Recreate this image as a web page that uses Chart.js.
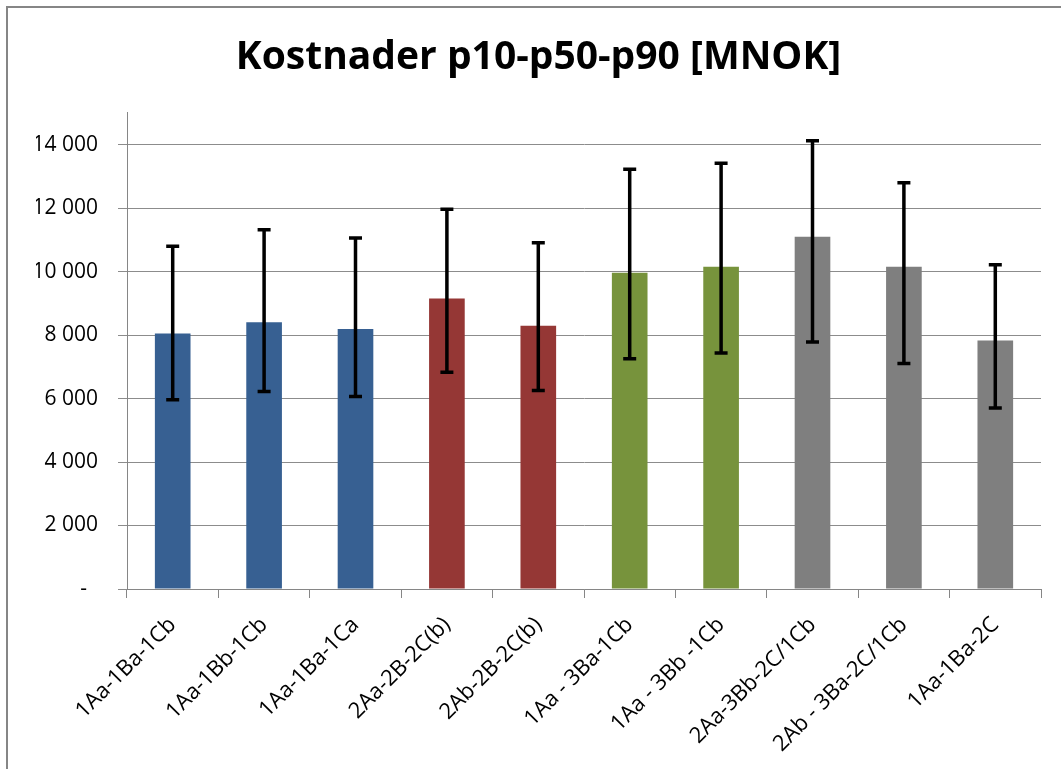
<!DOCTYPE html>
<html>
<head>
<meta charset="utf-8">
<script src="https://cdn.jsdelivr.net/npm/chart.js@4.4.1/dist/chart.umd.min.js"></script>
<style>
  html, body { margin: 0; padding: 0; background: #fff; overflow: hidden; }
  #frame {
    position: absolute; left: 6px; top: 6px; width: 2000px; height: 2000px;
    border-top: 2px solid #868686; border-left: 2px solid #868686;
  }
  #wrap { position: absolute; left: 0; top: 0; width: 1061px; height: 769px; }
</style>
</head>
<body>
<div id="frame"></div>
<div id="wrap"><canvas id="chart"></canvas></div>
<script>
// kostnader per alternativ, MNOK
const categories = [
  '1Aa-1Ba-1Cb', '1Aa-1Bb-1Cb', '1Aa-1Ba-1Ca', '2Aa-2B-2C(b)', '2Ab-2B-2C(b)',
  '1Aa - 3Ba-1Cb', '1Aa - 3Bb -1Cb', '2Aa-3Bb-2C/1Cb', '2Ab - 3Ba-2C/1Cb', '1Aa-1Ba-2C'
];
const p50 = [8050, 8400, 8190, 9150, 8290, 9960, 10150, 11095, 10150, 7830];
const p10 = [5960, 6220, 6060, 6825, 6250, 7250, 7435, 7780, 7100, 5700];
const p90 = [10800, 11320, 11055, 11960, 10910, 13220, 13410, 14120, 12800, 10210];
const yTicks = [0, 2000, 4000, 6000, 8000, 10000, 12000, 14000];
const barColors = [
  '#376092', '#376092', '#376092', '#953735', '#953735',
  '#77933C', '#77933C', '#7F7F7F', '#7F7F7F', '#7F7F7F'
];

const fmt = (v) => v === 0 ? '-  ' : String(v).replace(/\B(?=(\d{3})+(?!\d))/g, ' ');

const errorBars = {
  id: 'errorBars',
  afterDatasetsDraw(chart) {
    const { ctx, scales: { y } } = chart;
    const meta = chart.getDatasetMeta(0);
    ctx.save();
    ctx.strokeStyle = '#000';
    ctx.lineWidth = 3.5;
    meta.data.forEach((bar, i) => {
      const top = y.getPixelForValue(p90[i]);
      const bot = y.getPixelForValue(p10[i]);
      ctx.beginPath();
      ctx.moveTo(bar.x, top); ctx.lineTo(bar.x, bot);
      ctx.moveTo(bar.x - 6.5, top); ctx.lineTo(bar.x + 6.5, top);
      ctx.moveTo(bar.x - 6.5, bot); ctx.lineTo(bar.x + 6.5, bot);
      ctx.stroke();
    });
    ctx.restore();
  }
};

const font = "'Open Sans', 'Liberation Sans', sans-serif";

new Chart(document.getElementById('chart'), {
  type: 'bar',
  data: {
    labels: categories,
    datasets: [{
      data: p50,
      backgroundColor: barColors,
      barPercentage: 0.39,
      categoryPercentage: 1,
    }],
  },
  options: {
    responsive: true,
    maintainAspectRatio: false,
    animation: false,
    layout: { padding: { top: 0, right: 20, bottom: 0, left: 36 } },
    plugins: {
      legend: { display: false },
      tooltip: { enabled: false },
      title: {
        display: true,
        text: 'Kostnader p10-p50-p90 [MNOK]',
        color: '#000',
        font: { family: font, size: 39, weight: 'bold' },
        padding: { top: 34, bottom: 32 },
      },
    },
    scales: {
      x: {
        afterFit: (s) => { s.height = 180; },
        grid: {
          offset: true,
          drawOnChartArea: false,
          color: '#868686',
          tickLength: 9,
        },
        border: { color: '#868686', width: 1 },
        ticks: {
          color: '#000',
          font: { family: font, size: 22 },
          minRotation: 45,
          maxRotation: 45,
          padding: 14,
          labelOffset: 0,
          autoSkip: false,
        },
      },
      y: {
        min: 0,
        max: 15000,
        afterFit: (s) => { s.width = 91; },
        afterBuildTicks: (s) => { s.ticks = yTicks.map(v => ({ value: v })); },
        grid: { color: '#8c8c8c', tickLength: 9 },
        border: { color: '#868686', width: 1 },
        ticks: {
          color: '#000',
          font: { family: font, size: 21 },
          padding: 20,
          callback: (v) => fmt(v),
        },
      },
    },
  },
  plugins: [errorBars],
});
</script>
</body>
</html>
